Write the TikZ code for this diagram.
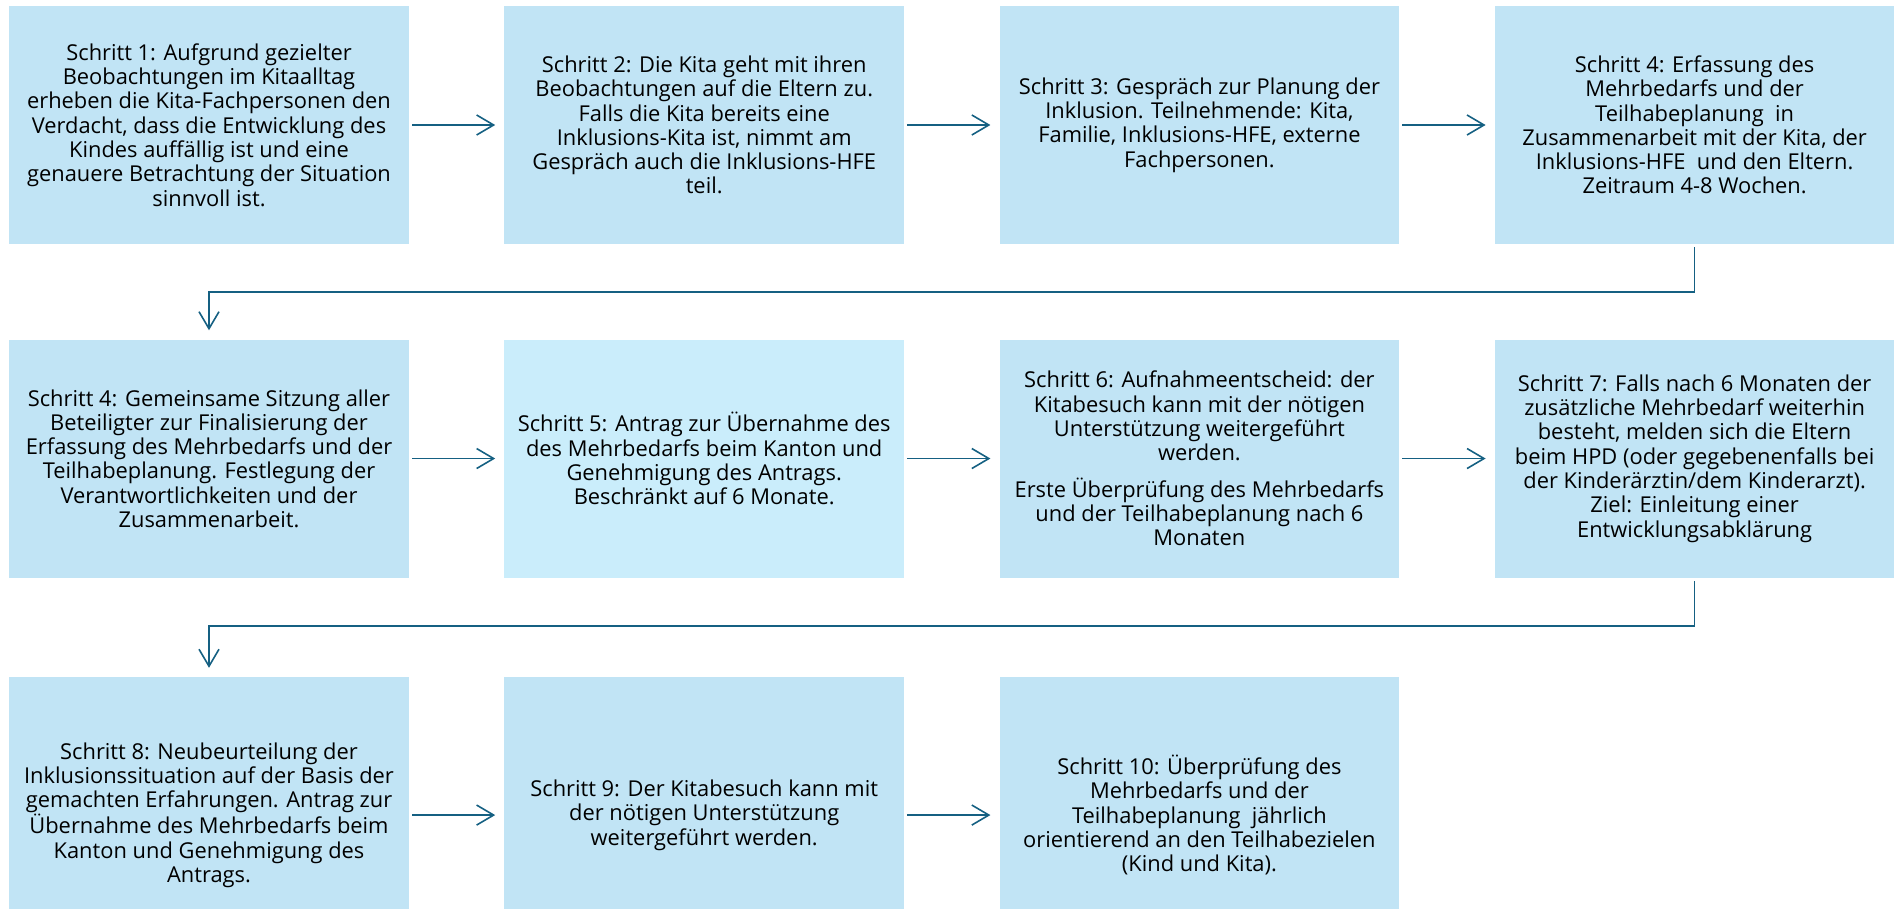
\documentclass[tikz,border=0pt]{standalone}
\usepackage{fontspec}
\setsansfont{Open Sans}
\usetikzlibrary{arrows.meta,positioning}
\definecolor{kitaInk}{HTML}{000000}
\definecolor{kitaBlue}{HTML}{156082}
\definecolor{kitaFill}{HTML}{C1E4F5}
\definecolor{kitaPale}{HTML}{CAEDFB}
\tikzset{
  every picture/.style={font=\sffamily\fontsize{16.4}{18.2}\selectfont, text=kitaInk},
  kita box/.style={fill=kitaFill, align=center, inner sep=0pt,
    minimum width=299.6pt, minimum height=178.5pt},
  kita tall/.style={kita box, minimum height=207pt},
  kita arrow/.style={-{Straight Barb[length=12.75pt,width=15pt]},
    draw=kitaBlue, line width=1.2pt, shorten <=2.25pt, shorten >=6.75pt}
}

\begin{document}
\begin{tikzpicture}[x=0.75pt,y=-0.75pt,node distance=71.4pt]
  \clip (0,0) rectangle (1898,909);
  % row 1
  \node[kita box] (step1) at (209,125) {Schritt 1: Aufgrund gezielter\\Beobachtungen im Kitaalltag\\erheben die Kita-Fachpersonen den\\Verdacht, dass die Entwicklung des\\Kindes auffällig ist und eine\\genauere Betrachtung der Situation\\sinnvoll ist.};
  \node[kita box, right=of step1] (step2) {Schritt 2: Die Kita geht mit ihren\\Beobachtungen auf die Eltern zu.\\Falls die Kita bereits eine\\Inklusions-Kita ist, nimmt am\\Gespräch auch die Inklusions-HFE\\teil.};
  \node[kita box, right=of step2] (step3) {Schritt 3: Gespräch zur Planung der\\Inklusion. Teilnehmende: Kita,\\Familie, Inklusions-HFE, externe\\Fachpersonen.};
  \node[kita box, right=of step3] (step4a) {Schritt 4: Erfassung des\\Mehrbedarfs und der\\Teilhabeplanung\ \ in\\Zusammenarbeit mit der Kita, der\\Inklusions-HFE\ \ und den Eltern.\\Zeitraum 4-8 Wochen.};
  % row 2
  \node[kita box, below=71.25pt of step1] (step4b) {Schritt 4: Gemeinsame Sitzung aller\\Beteiligter zur Finalisierung der\\Erfassung des Mehrbedarfs und der\\Teilhabeplanung. Festlegung der\\Verantwortlichkeiten und der\\Zusammenarbeit.};
  \node[kita box, fill=kitaPale, right=of step4b] (step5) {Schritt 5: Antrag zur Übernahme des\\des Mehrbedarfs beim Kanton und\\Genehmigung des Antrags.\\Beschränkt auf 6 Monate.};
  \node[kita box, right=of step5] (step6) {Schritt 6: Aufnahmeentscheid: der\\Kitabesuch kann mit der nötigen\\Unterstützung weitergeführt\\werden.\\[9pt]Erste Überprüfung des Mehrbedarfs\\und der Teilhabeplanung nach 6\\Monaten};
  \node[kita box, right=of step6] (step7) {Schritt 7: Falls nach 6 Monaten der\\zusätzliche Mehrbedarf weiterhin\\besteht, melden sich die Eltern\\beim HPD (oder gegebenenfalls bei\\der Kinderärztin/dem Kinderarzt).\\Ziel: Einleitung einer\\Entwicklungsabklärung};
  % row 3
  \node[kita tall, below=74.25pt of step4b] (step8) {Schritt 8: Neubeurteilung der\\Inklusionssituation auf der Basis der\\gemachten Erfahrungen. Antrag zur\\Übernahme des Mehrbedarfs beim\\Kanton und Genehmigung des\\Antrags.};
  \node[kita tall, right=of step8] (step9) {Schritt 9: Der Kitabesuch kann mit\\der nötigen Unterstützung\\weitergeführt werden.};
  \node[kita tall, right=of step9] (step10) {Schritt 10: Überprüfung des\\Mehrbedarfs und der\\Teilhabeplanung\ \ jährlich\\orientierend an den Teilhabezielen\\(Kind und Kita).};
  % arrows
  \draw[kita arrow] (step1.east) -- (step2.west);
  \draw[kita arrow] (step2.east) -- (step3.west);
  \draw[kita arrow] (step3.east) -- (step4a.west);
  \draw[kita arrow] (step4a.south) -- ++(0,-35.6pt) -| (step4b.north);
  \draw[kita arrow] (step4b.east) -- (step5.west);
  \draw[kita arrow] (step5.east) -- (step6.west);
  \draw[kita arrow] (step6.east) -- (step7.west);
  \draw[kita arrow] (step7.south) -- ++(0,-36pt) -| (step8.north);
  \draw[kita arrow] (step8.east) -- (step9.west);
  \draw[kita arrow] (step9.east) -- (step10.west);
\end{tikzpicture}
\end{document}
